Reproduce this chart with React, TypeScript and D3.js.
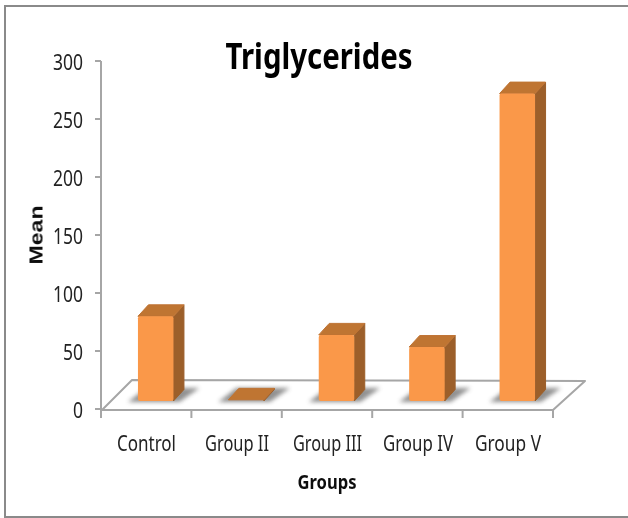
import React from "react";
import * as d3 from "d3";

const categories = ["Control", "Group II", "Group III", "Group IV", "Group V"];
const meanValues = [73, 1, 57, 46.5, 265];
const yTicks = [0, 50, 100, 150, 200, 250, 300];
const titleText = "Triglycerides";
const xTitle = "Groups";
const yTitle = "Mean";

const W = 628, H = 518;
const axisLeft = 101, axisRight = 553, axisBottom = 409, axisTop = 61;
const depthX = 31, depthY = 29;
const barW = 35.5, barDX = 10.5, barDY = 11.5;
const baseY = 401;
const FONT = "'Noto Sans', sans-serif";

const x = d3.scaleBand<string>().domain(categories).range([axisLeft, axisRight]).paddingInner(0).paddingOuter(0);
const y = d3.scaleLinear().domain([0, 300]).range([axisBottom, axisTop]);
const hOf = (v: number) => y(0) - y(v);
const poly = (p: number[][]) => d3.line()(p as [number, number][]) + "Z";

export default function App() {
  const bw = x.bandwidth();
  const xTicks = [...categories.map((c) => x(c) as number), axisRight];
  return (
    <svg width={W} height={H} style={{ position: "absolute", left: 0, top: 0, background: "#fff" }}>
      <defs>
        <filter id="blur" x="-30%" y="-60%" width="160%" height="220%"><feGaussianBlur stdDeviation="2" /></filter>
        <filter id="soft" x="-10%" y="-10%" width="120%" height="120%"><feGaussianBlur stdDeviation="0.5" /></filter>
        <filter id="floorSoft" x="-5%" y="-20%" width="110%" height="140%"><feGaussianBlur stdDeviation="0.7" /></filter>
        <filter id="txt" x="-5%" y="-10%" width="110%" height="120%"><feGaussianBlur stdDeviation="0.35" /></filter>
      </defs>
      <path d={`M630,6H5V517H630`} fill="#fff" stroke="#8a8a8a" strokeWidth={2} />

      {/* floor */}
      <path
        d={poly([[axisLeft + 1, axisBottom + 1], [axisRight, axisBottom + 1], [axisRight + depthX + 1, axisBottom - depthY + 1], [axisLeft + depthX, axisBottom - depthY]])}
        fill="#fff" stroke="#a6a6a6" strokeWidth={2} strokeLinejoin="round" filter="url(#floorSoft)"
      />
      {/* axes */}
      <path d={`M${axisLeft},${axisTop}V${axisBottom}`} stroke="#a6a6a6" strokeWidth={2} fill="none" />
      {yTicks.map((t) => (
        <g key={t}>
          <line x1={axisLeft - 6} x2={axisLeft} y1={y(t)} y2={y(t)} stroke="#a6a6a6" strokeWidth={2} />
          <text x={83} y={y(t) + 8.7} textAnchor="end" fontFamily={FONT} fontSize={21} fill="#222" filter="url(#txt)"
            textLength={t === 0 ? 10 : t < 100 ? 20 : 30} lengthAdjust="spacingAndGlyphs">{t}</text>
        </g>
      ))}
      {xTicks.map((t, i) => (
        <line key={i} x1={t} x2={t} y1={axisBottom} y2={axisBottom + 9} stroke="#a6a6a6" strokeWidth={2} />
      ))}

      {/* bars */}
      {categories.map((c, i) => {
        const h = hOf(meanValues[i]);
        const cx = (x(c) as number) + bw / 2 + 9.5;
        const l = cx - barW / 2, r = cx + barW / 2, top = baseY - h;
        return (
          <g key={c}>
            <path
              d={poly([[l - 10, baseY + 1], [r + 6, baseY + 1], [r + 26, baseY - 13], [l + 8, baseY - 13]])}
              fill="#858585" opacity={0.9} filter="url(#blur)"
            />
            <g filter="url(#soft)">
              <path d={poly([[r, top], [r + barDX, top - barDY], [r + barDX, baseY - barDY], [r, baseY]])} fill="#9c5f2a" stroke="#9c5f2a" strokeWidth={1} strokeLinejoin="round" />
              <path d={poly([[l, top], [l + barDX, top - barDY], [r + barDX, top - barDY], [r, top]])} fill="#bf7433" stroke="#bf7433" strokeWidth={1} strokeLinejoin="round" />
              {h > 3 && <rect x={l} y={top} width={barW} height={h} rx={2} fill="#fa9848" />}
            </g>
          </g>
        );
      })}

      {/* labels */}
      {categories.map((c, i) => (
        <text key={c} x={[117, 205, 293, 383, 475][i]} y={450.5}
          fontFamily={FONT} fontSize={21} fill="#222" filter="url(#txt)"
          textLength={[59, 64, 69, 70, 66][i]} lengthAdjust="spacingAndGlyphs">{c}</text>
      ))}
      <text x={319} y={69} textAnchor="middle" fontFamily={FONT} fontSize={36} fontWeight={700} fill="#000" filter="url(#txt)"
        textLength={187} lengthAdjust="spacingAndGlyphs">{titleText}</text>
      <text x={327} y={488.5} textAnchor="middle" fontFamily={FONT} fontSize={19} fontWeight={700} fill="#111" filter="url(#txt)"
        textLength={59} lengthAdjust="spacingAndGlyphs">{xTitle}</text>
      <text transform="translate(42.5,235) rotate(-90)" textAnchor="middle" fontFamily="'Liberation Sans', sans-serif" fontSize={19} fontWeight={700} fill="#111" filter="url(#txt)"
        textLength={59} lengthAdjust="spacingAndGlyphs">{yTitle}</text>
    </svg>
  );
}
